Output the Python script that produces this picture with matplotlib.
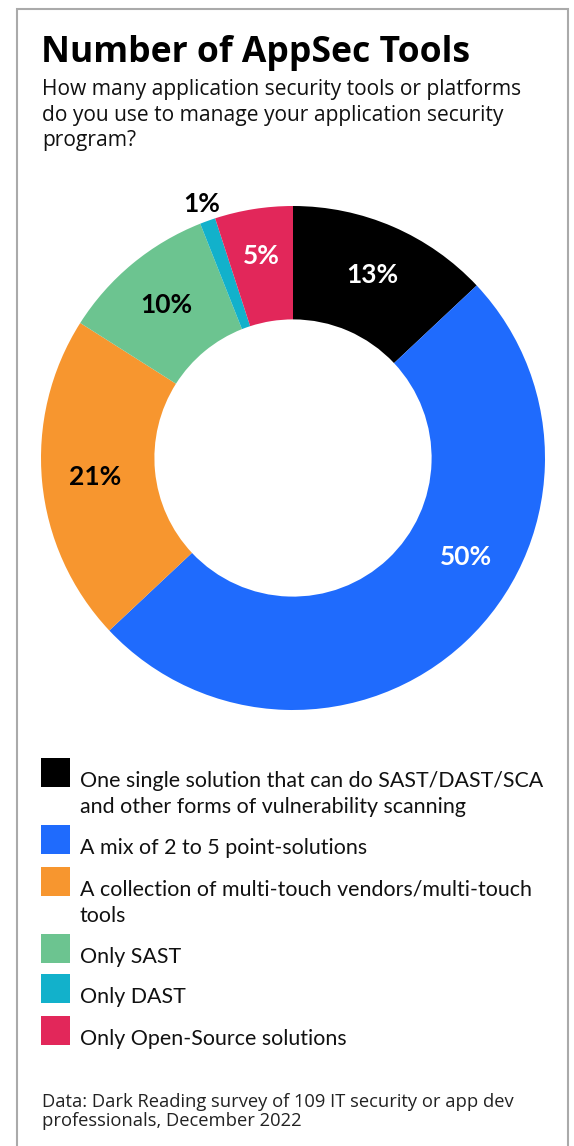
import matplotlib
matplotlib.use("Agg")
import matplotlib.pyplot as plt
import numpy as np
from matplotlib.patches import Rectangle

categories = [
    "One single solution that can do SAST/DAST/SCA\nand other forms of vulnerability scanning",
    "A mix of 2 to 5 point-solutions",
    "A collection of multi-touch vendors/multi-touch\ntools",
    "Only SAST",
    "Only DAST",
    "Only Open-Source solutions",
]
values = [13, 50, 21, 10, 1, 5]
colors = ["#000000", "#1f6bfd", "#f7962f", "#6cc490", "#12b1cb", "#e2275a"]
label_colors = ["white", "white", "black", "black", "black", "white"]

title = "Number of AppSec Tools"
subtitle = ["How many application security tools or platforms",
            "do you use to manage your application security",
            "program?"]
footer = ["Data: Dark Reading survey of 109 IT security or app dev",
          "professionals, December 2022"]

W, H = 574, 1146
fig = plt.figure(figsize=(W / 100, H / 100), dpi=100)
fig.patch.set_facecolor("white")

def fx(x):
    return x / W

def fy(y):
    return 1 - y / H

# border box
fig.add_artist(Rectangle((fx(16.5), fy(1200)), fx(568) - fx(16.5), fy(8.5) - fy(1200),
                         transform=fig.transFigure, fill=False, edgecolor="#aaaaaa", lw=1.5))

fig.text(fx(41), fy(62), title, fontsize=25.6, fontweight="bold",
         family="Open Sans", va="baseline", ha="left", color="black")
for k, line in enumerate(subtitle):
    fig.text(fx(42), fy(95 + 25.7 * k), line, fontsize=15.1, family="Open Sans",
             va="baseline", ha="left", color="#111111")

# donut
cx, cy, R = 293, 458, 252
ax = fig.add_axes([fx(cx - R), fy(cy + R), 2 * R / W, 2 * R / H])
wedges, _ = ax.pie(values, colors=colors, startangle=90, counterclock=False, radius=1,
                   wedgeprops=dict(width=0.45, edgecolor="none"))
ax.set_xlim(-1, 1)
ax.set_ylim(-1, 1)
ax.set_aspect("equal")
ax.axis("off")

total = sum(values)
cum = np.cumsum([0] + values[:-1])
for i, v in enumerate(values):
    frac = (cum[i] + v / 2) / total
    ang = np.deg2rad(frac * 360)
    r = 0.79
    if v == 50:
        ang = np.deg2rad(119.8)
    if v == 1:
        r = 1.07
    if v == 5:
        r = 0.81
    x = r * np.sin(ang)
    y = r * np.cos(ang)
    ax.text(x, y, f"{v}%", ha="center", va="center", fontsize=19, fontweight="bold",
            family="Lato", color=label_colors[i])

# legend
sq_bottoms = [787, 854, 896, 963, 1003, 1045]
for i, lab in enumerate(categories):
    b = sq_bottoms[i]
    fig.add_artist(Rectangle((fx(41), fy(b)), 29 / W, 29 / H,
                             transform=fig.transFigure, color=colors[i], lw=0))
    for k, line in enumerate(lab.split("\n")):
        fig.text(fx(80), fy(b + 26 * k), line, fontsize=15.4, family="Lato",
                 va="baseline", ha="left", color="#111111")

for k, line in enumerate(footer):
    fig.text(fx(42), fy(1107 + 19.5 * k), line, fontsize=13.2, family="Open Sans",
             va="baseline", ha="left", color="#222222")

fig.savefig("out.png", dpi=100)
